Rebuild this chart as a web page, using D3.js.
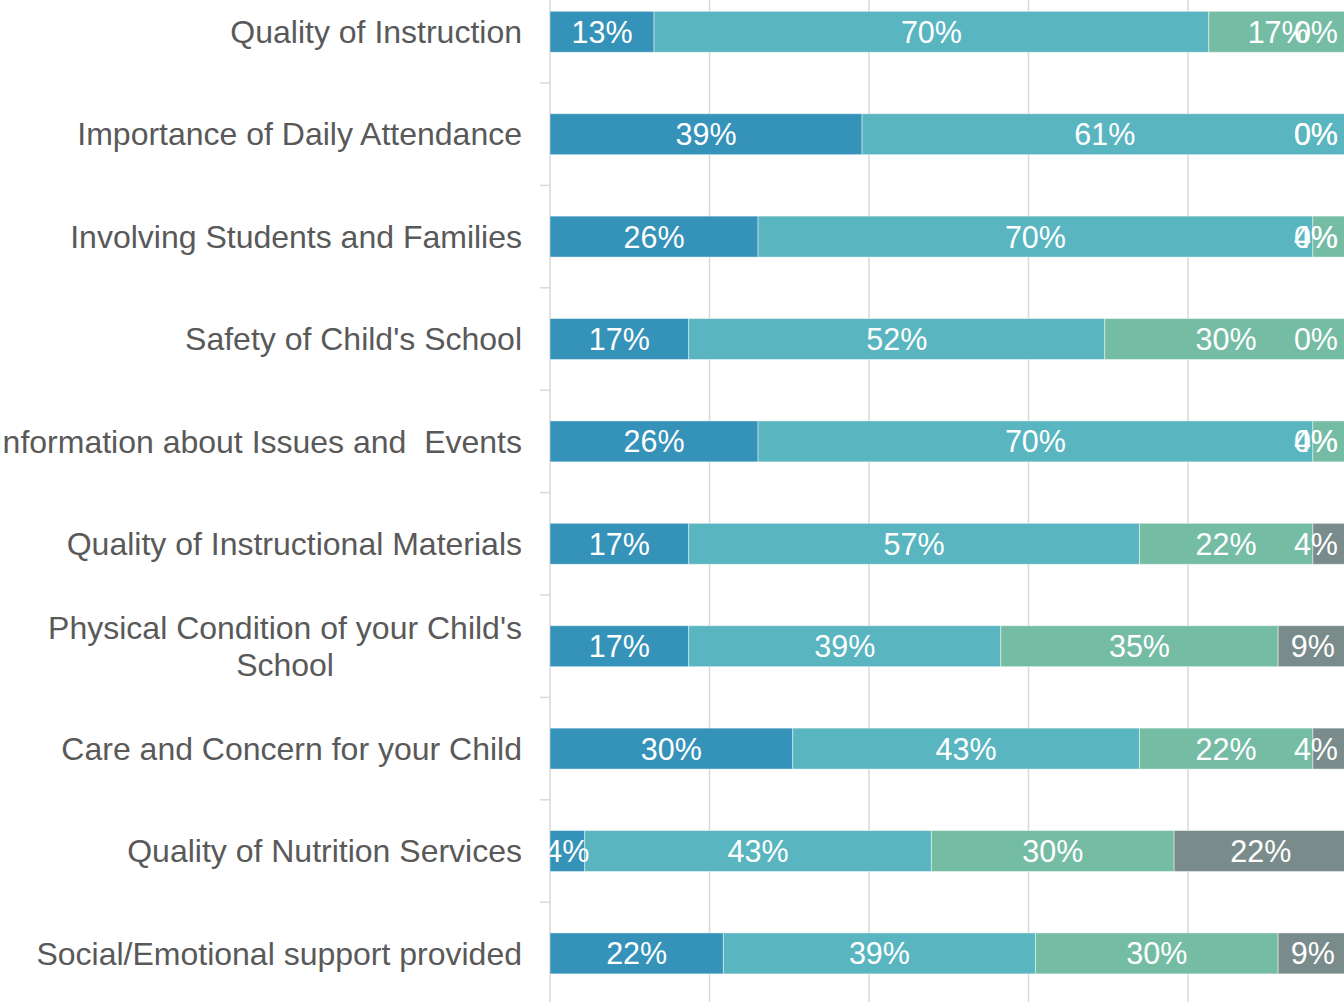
<!DOCTYPE html>
<html>
<head>
<meta charset="utf-8">
<script src="https://cdn.jsdelivr.net/npm/d3@7"></script>
<style>
    html, body { margin: 0; padding: 0; background: #fff; }
    svg { display: block; font-family: "Liberation Sans", Arial, sans-serif; }
    text { white-space: pre; }
</style>
</head>
<body>
<div id="chart"></div>
<script>
// survey answers out of 23 respondents
const respondents = 23;

const categories = [
    'Quality of Instruction',
    'Importance of Daily Attendance',
    'Involving Students and Families',
    "Safety of Child's School",
    'Information about Issues and  Events',
    'Quality of Instructional Materials',
    "Physical Condition of your Child's|School",
    'Care and Concern for your Child',
    'Quality of Nutrition Services',
    'Social/Emotional support provided'
];

const seriesNames = ['s1', 's2', 's3', 's4'];
const seriesColors = ['#3592b9', '#59b5c0', '#75bca5', '#798b8b'];

const s1 = [3, 9, 6, 4, 6, 4, 4, 7, 1, 5];
const s2 = [16, 14, 16, 12, 16, 13, 9, 10, 10, 9];
const s3 = [4, 0, 1, 7, 1, 5, 8, 5, 7, 7];
const s4 = [0, 0, 0, 0, 0, 1, 2, 1, 5, 2];

const xTicks = [0, 0.2, 0.4, 0.6, 0.8, 1];

const width = 1344;
const height = 1002;
const plotLeft = 550;
const plotRight = 1347.5;
const labelRightLimit = 1338;

const rows = categories.map((c, i) => {
    const vals = [s1[i], s2[i], s3[i], s4[i]];
    const row = {category: c};
    seriesNames.forEach((s, j) => row[s] = vals[j] / respondents);
    return row;
});

const stacked = d3.stack().keys(seriesNames)(rows);

const svg = d3.select('#chart').append('svg')
    .attr('width', width)
    .attr('height', height);

const x = d3.scaleLinear().domain([0, 1]).range([plotLeft, plotRight]);
const y = d3.scaleBand()
    .domain(categories)
    .range([-19.4, -19.4 + 102.4 * categories.length])
    .paddingInner(0.6)
    .paddingOuter(0.3);

// gridlines
svg.append('g')
    .selectAll('line')
    .data(xTicks.slice(1))
    .enter().append('line')
    .attr('x1', d => x(d)).attr('x2', d => x(d))
    .attr('y1', 0).attr('y2', height)
    .attr('stroke', '#d9d9d9')
    .attr('stroke-width', 1.5);

svg.append('line')
    .attr('x1', plotLeft).attr('x2', plotLeft)
    .attr('y1', 0).attr('y2', height)
    .attr('stroke', '#d9d9d9')
    .attr('stroke-width', 1.5);

// category ticks sit between the bands
const step = y.step();
svg.append('g')
    .selectAll('line')
    .data(categories.slice(1))
    .enter().append('line')
    .attr('x1', plotLeft - 10).attr('x2', plotLeft)
    .attr('y1', d => y(d) - (step - y.bandwidth()) / 2)
    .attr('y2', d => y(d) - (step - y.bandwidth()) / 2)
    .attr('stroke', '#d9d9d9')
    .attr('stroke-width', 1.5);

// category labels
const labelX = plotLeft - 28;
const catLabels = svg.append('g')
    .selectAll('text')
    .data(categories)
    .enter().append('text')
    .attr('text-anchor', 'end')
    .attr('fill', '#595959')
    .style('font-size', '32px');

catLabels.each(function (d) {
    const lines = d.split('|');
    const t = d3.select(this);
    const cy = y(d) + y.bandwidth() / 2;
    const lh = 37;
    lines.forEach((l, k) => {
        t.append('tspan')
            .attr('x', labelX)
            .attr('y', cy + (k - (lines.length - 1) / 2) * lh)
            .attr('dy', '0.35em')
            .text(l);
    });
});
// second line of a wrapped label is centred under the first
catLabels.filter(d => d.includes('|')).each(function () {
    const t = d3.select(this);
    const spans = t.selectAll('tspan').nodes();
    const w0 = spans[0].getComputedTextLength();
    const center = labelX - w0 / 2;
    t.attr('text-anchor', 'middle');
    spans.forEach(s => d3.select(s).attr('x', center));
});

// bars
svg.append('defs').append('clipPath').attr('id', 'plot-clip')
    .append('rect')
    .attr('x', plotLeft).attr('y', 0)
    .attr('width', width - plotLeft).attr('height', height);

const layers = svg.append('g')
    .selectAll('g')
    .data(stacked)
    .enter().append('g')
    .attr('fill', (d, i) => seriesColors[i]);

layers.selectAll('rect')
    .data(d => d)
    .enter().append('rect')
    .attr('x', d => x(d[0]))
    .attr('y', d => y(d.data.category))
    .attr('width', d => x(d[1]) - x(d[0]))
    .attr('height', y.bandwidth())
    .attr('stroke', 'rgba(255,255,255,0.45)')
    .attr('stroke-width', 1);

// data labels, pushed left when they would run off the chart
const fmt = d3.format('.0%');
const labelG = svg.append('g').attr('clip-path', 'url(#plot-clip)');

stacked.forEach(layer => {
    layer.forEach(d => {
        const cx = (x(d[0]) + x(d[1])) / 2;
        const t = labelG.append('text')
            .attr('text-anchor', 'middle')
            .attr('fill', '#fff')
            .style('font-size', '30.5px')
            .attr('x', cx)
            .attr('y', y(d.data.category) + y.bandwidth() / 2)
            .attr('dy', '0.36em')
            .text(fmt(d[1] - d[0]));
        const w = t.node().getComputedTextLength();
        if (cx + w / 2 > labelRightLimit) {
            t.attr('x', labelRightLimit - w / 2);
        }
    });
});
</script>
</body>
</html>
